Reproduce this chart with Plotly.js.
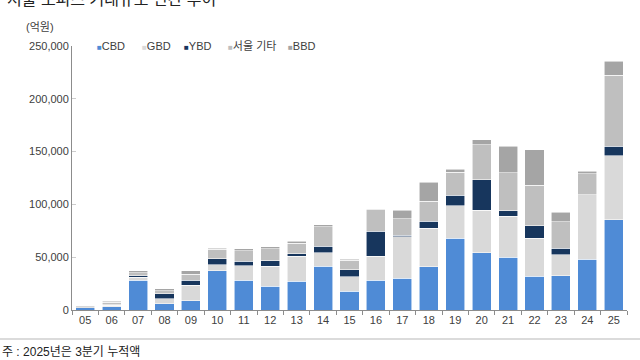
<!DOCTYPE html>
<html>
<head>
<meta charset="utf-8">
<script src="https://cdn.plot.ly/plotly-3.0.1.min.js"></script>
<style>html,body{margin:0;padding:0;background:#fff;}#chart{width:640px;height:360px;}</style>
</head>
<body>
<div id="chart"></div>
<script>
const years = ["05","06","07","08","09","10","11","12","13","14","15","16","17","18","19","20","21","22","23","24","25"];
const cbd   = [2000,3000,28400,6000,8800,37200,28100,22700,27200,41400,17700,28400,30000,41000,67900,54300,49900,32200,32500,48000,85500];
const gbd   = [300,1500,2600,4700,14600,5700,13600,18700,23700,12900,13600,22700,39400,36400,30600,40400,38800,35700,19600,61200,60600];
const ybd   = [0,500,1500,4500,5000,5700,4400,5300,2400,6000,6900,23700,1600,6700,10100,28700,5300,11900,6300,0,9200];
const other = [1000,2500,2800,3100,5400,8900,9800,11100,10100,18600,8900,20200,15200,19100,21800,32900,36000,38300,25200,19900,67200];
const bbd   = [800,1000,1900,1600,3400,1200,1900,1900,1900,1600,1200,600,8500,18000,2800,4700,25300,33700,9200,2200,13300];

const seriesNames = ["CBD","GBD","YBD","서울 기타","BBD"];
const seriesColors = ["#4f8bd6","#d9d9d9","#17365d","#bfbfbf","#a5a5a5"];
const seriesData = [cbd,gbd,ybd,other,bbd];

const traces = seriesData.map((d,i)=>({
  type:"bar", x:years, y:d, name:seriesNames[i],
  marker:{color:seriesColors[i], line:{color:"rgba(255,255,255,0.7)", width:0.8}},
  showlegend:false, hoverinfo:"x+y+name"
}));

const L=72, R=13, T=46, B=50, W=640-L-R, H=360-T-B;
const px = v => (v-L)/W;
const py = v => (360-B-v)/H;

const legendX = [95,140,182,226,286];
const annotations = seriesNames.map((n,i)=>({
  xref:"paper", yref:"paper", x:px(legendX[i]), y:py(46), xanchor:"left", yanchor:"middle",
  showarrow:false,
  text:'<span style="color:'+seriesColors[i]+';font-size:8px">■</span>'+n,
  font:{size:11, color:"#404040"}
}));
annotations.push({xref:"paper", yref:"paper", x:px(40), y:py(27), xanchor:"center", yanchor:"middle", showarrow:false, text:"(억원)", font:{size:11,color:"#404040"}});
annotations.push({xref:"paper", yref:"paper", x:px(5), y:py(-1), xanchor:"left", yanchor:"middle", showarrow:false, text:"서울 오피스 거래규모 연간 추이", font:{size:16,color:"#222"}});
annotations.push({xref:"paper", yref:"paper", x:px(0), y:py(352), xanchor:"left", yanchor:"middle", showarrow:false, text:"주 : 2025년은 3분기 누적액", font:{size:12,color:"#222"}});

const layout = {
  width:640, height:360,
  margin:{l:L, r:R, t:T, b:B, pad:0},
  barmode:"stack", bargap:0.28,
  paper_bgcolor:"#fff", plot_bgcolor:"#fff",
  font:{family:"Liberation Sans, Arial, Noto Sans CJK KR, sans-serif", size:11, color:"#404040"},
  xaxis:{type:"category", showline:true, linecolor:"#8c8c8c", linewidth:1, ticks:"outside", tickson:"boundaries", ticklen:4, tickcolor:"#8c8c8c", showgrid:false, tickfont:{size:11,color:"#404040"}, fixedrange:true},
  yaxis:{range:[0,250000], dtick:50000, tickformat:",", showline:true, linecolor:"#8c8c8c", linewidth:1, ticks:"inside", ticklen:4, tickcolor:"#cccccc", showgrid:false, zeroline:false, tickfont:{size:11,color:"#404040"}, fixedrange:true},
  annotations:annotations,
  shapes:[{type:"line", xref:"paper", yref:"paper", x0:px(0), x1:px(640), y0:py(339), y1:py(339), line:{color:"#cfcfcf", width:1.5}}]
};

Plotly.newPlot("chart", traces, layout, {displayModeBar:false, staticPlot:true});
</script>
</body>
</html>
